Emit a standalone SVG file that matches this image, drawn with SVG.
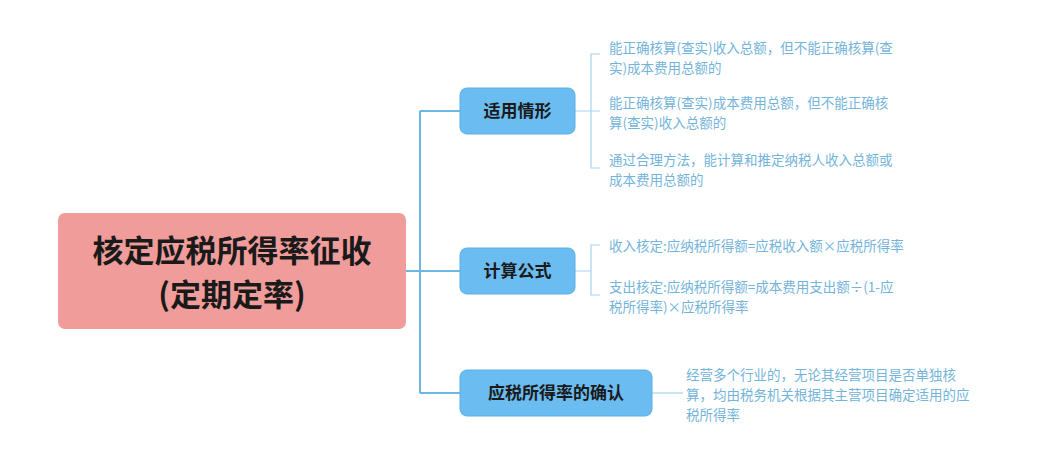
<svg xmlns="http://www.w3.org/2000/svg" width="1063" height="470" viewBox="0 0 1063 470">
<style>
.c{fill:none;stroke:#6cb7e3;stroke-width:2}
.l{fill:none;stroke:#a8d2ea;stroke-width:1.2}
.b{fill:#6bbcf0;stroke:#5aaee6;stroke-width:1}
.bt{font-family:"Noto Sans CJK SC",sans-serif;font-size:17px;font-weight:bold;fill:#1a1a1a}
.lt{font-family:"Noto Sans CJK SC",sans-serif;font-size:13.5px;fill:#74b4da}
.rt{font-family:"Noto Sans CJK SC",sans-serif;font-size:31px;font-weight:bold;fill:#1a1a1a}
</style>
<rect width="1063" height="470" fill="#fff"/>
<g id="connectors">
<path class="c" d="M406 271H420M420 111V393M420 111H460M420 271H460M420 393H460"/>
<path class="l" d="M575 111H600M600 54H591V168H600"/>
<path class="l" d="M575 271H591M600 245H591V295H600"/>
<path class="l" d="M652 393H683"/>
</g>
<g id="root">
<rect x="58" y="213" width="348" height="116" rx="7" fill="#f09c9a"/>
<text class="rt" x="232" y="262" text-anchor="middle">核定应税所得率征收</text>
<text class="rt" x="232" y="306" text-anchor="middle">(定期定率)</text>
</g>
<g id="n1">
<rect class="b" x="460" y="88" width="115" height="46" rx="7"/>
<text class="bt" x="517.5" y="117" text-anchor="middle">适用情形</text>
</g>
<g id="n2">
<rect class="b" x="460" y="248" width="115" height="46" rx="7"/>
<text class="bt" x="517.5" y="277" text-anchor="middle">计算公式</text>
</g>
<g id="n3">
<rect class="b" x="460" y="370" width="192" height="46" rx="7"/>
<text class="bt" x="556" y="399" text-anchor="middle">应税所得率的确认</text>
</g>
<g id="leaves">
<text class="lt" x="609" y="53">能正确核算(查实)收入总额，但不能正确核算(查</text>
<text class="lt" x="609" y="73">实)成本费用总额的</text>
<text class="lt" x="609" y="108">能正确核算(查实)成本费用总额，但不能正确核</text>
<text class="lt" x="609" y="128">算(查实)收入总额的</text>
<text class="lt" x="609" y="165">通过合理方法，能计算和推定纳税人收入总额或</text>
<text class="lt" x="609" y="185">成本费用总额的</text>
<text class="lt" x="609" y="251">收入核定:应纳税所得额=应税收入额×应税所得率</text>
<text class="lt" x="609" y="292">支出核定:应纳税所得额=成本费用支出额÷(1-应</text>
<text class="lt" x="609" y="312">税所得率)×应税所得率</text>
<text class="lt" x="686" y="380">经营多个行业的，无论其经营项目是否单独核</text>
<text class="lt" x="686" y="400">算，均由税务机关根据其主营项目确定适用的应</text>
<text class="lt" x="686" y="420">税所得率</text>
</g>
</svg>
